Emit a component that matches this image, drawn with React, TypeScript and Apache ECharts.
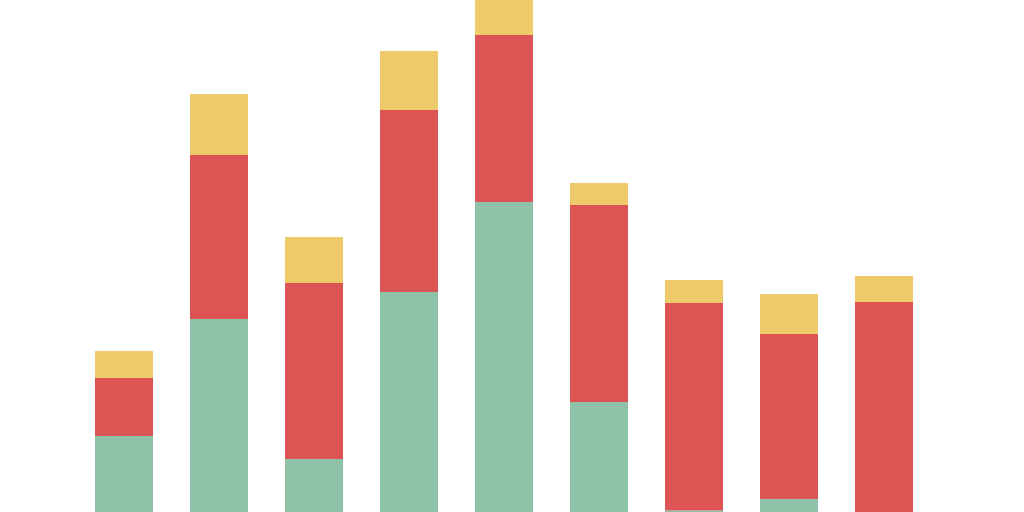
import { useRef, useEffect } from 'react'
import * as echarts from 'echarts'

const CATEGORIES = ['A', 'B', 'C', 'D', 'E', 'F', 'G', 'H', 'I']
const GREEN_VALUES = [76, 193, 53, 220, 310, 110, 1.5, 13, 0]
const RED_VALUES = [58, 164, 176, 182, 167, 197, 207.5, 165, 210]
const YELLOW_VALUES = [27, 61, 46, 59, 35, 22, 23, 40, 26]

function buildOption(): echarts.EChartsOption {
  const bar = (name: string, data: number[], color: string) => ({
    name,
    type: 'bar' as const,
    stack: 'total',
    data,
    barWidth: 58,
    itemStyle: { color },
  })
  return {
    animation: false,
    grid: { top: 0, bottom: 0, left: 76.5, right: 92.5, containLabel: false },
    xAxis: {
      type: 'category',
      data: CATEGORIES,
      show: false,
    },
    yAxis: {
      type: 'value',
      min: 0,
      max: 512,
      show: false,
    },
    series: [
      bar('Green', GREEN_VALUES, '#8fc3a9'),
      bar('Red', RED_VALUES, '#dd5454'),
      bar('Yellow', YELLOW_VALUES, '#efca6a'),
    ],
  }
}

export default function App() {
  const containerRef = useRef<HTMLDivElement>(null)

  useEffect(() => {
    const el = containerRef.current
    if (!el) return
    const chart = echarts.init(el, null, { renderer: 'svg' })
    chart.setOption(buildOption())
    return () => chart.dispose()
  }, [])

  return (
    <div
      ref={containerRef}
      style={{ position: 'fixed', left: 0, top: 0, width: 1024, height: 512, background: '#ffffff' }}
    />
  )
}
